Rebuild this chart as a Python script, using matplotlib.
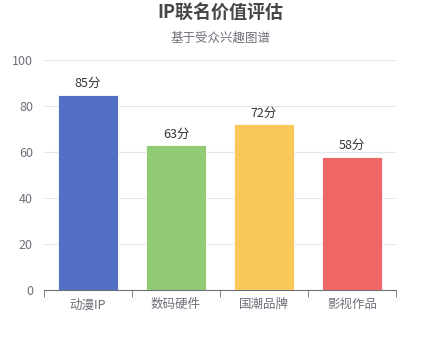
import matplotlib
matplotlib.use("Agg")
import matplotlib.pyplot as plt
import numpy as np

plt.rcParams['font.family'] = ['Noto Sans CJK SC', 'DejaVu Sans']

# 数据
categories = ['动漫IP', '数码硬件', '国潮品牌', '影视作品']
scores = [85, 63, 72, 58]
colors = ['#5470c6', '#91cc75', '#fac858', '#ee6666']

fig = plt.figure(figsize=(4.4, 3.6), dpi=100)
ax = fig.add_axes([0.1, 0.1944, 0.8, 0.6389])

x = np.arange(len(categories))
bars = ax.bar(x, scores, width=0.68, color=colors, edgecolor='white', linewidth=0.6, zorder=3)

for xi, v in zip(x, scores):
    ax.text(xi, v + 2, f'{v}分', ha='center', va='bottom', fontsize=9, color='#333333')

ax.set_xlim(-0.5, len(categories) - 0.5)
ax.set_ylim(0, 100)
ax.set_yticks(range(0, 101, 20))
ax.set_xticks(x)
ax.set_xticklabels(categories)

# 网格和坐标轴
ax.grid(axis='y', color='#e0e6f1', linewidth=0.8, zorder=0)
for s in ['top', 'right', 'left']:
    ax.spines[s].set_visible(False)
ax.spines['bottom'].set_color('#6e7079')
ax.tick_params(axis='y', length=0, colors='#6e7079', labelsize=9, pad=8)
ax.tick_params(axis='x', length=0, colors='#6e7079', labelsize=9, pad=6)

# 类目边界刻度
ax.set_xticks(np.arange(-0.5, len(categories)), minor=True)
ax.tick_params(axis='x', which='minor', length=5, color='#6e7079')

fig.text(0.5, 0.963, 'IP联名价值评估', ha='center', va='center', fontsize=13, fontweight='bold', color='#464646')
fig.text(0.5, 0.894, '基于受众兴趣图谱', ha='center', va='center', fontsize=9, color='#6e7079')

fig.savefig('out.png', dpi=100)
